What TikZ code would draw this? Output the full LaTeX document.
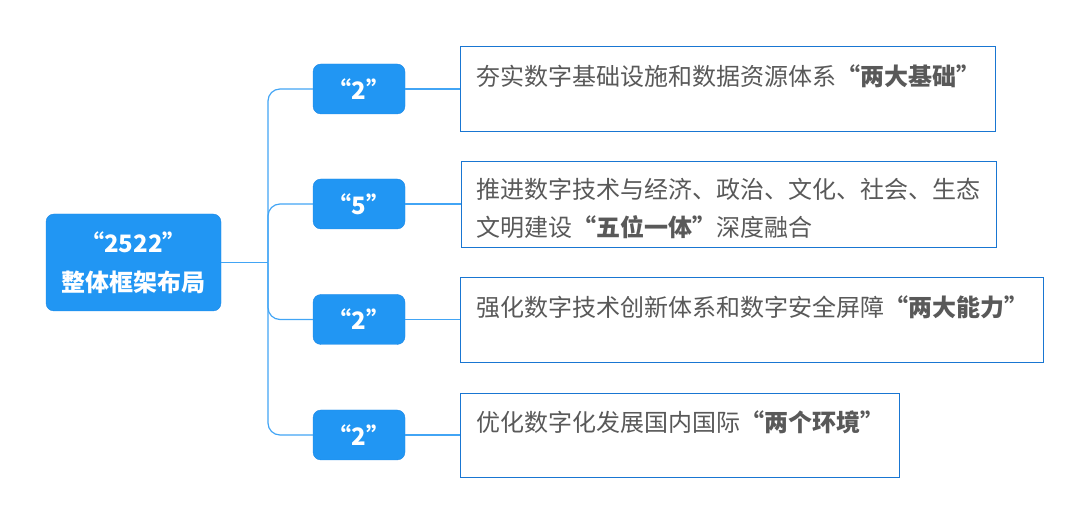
\documentclass[tikz,border=0pt]{standalone}
\usepackage{fontspec}
\setmainfont{Noto Sans CJK SC}
\usepackage{xcolor}
\usetikzlibrary{positioning}
\definecolor{boxblue}{HTML}{2196F3}
\definecolor{boxedge}{HTML}{1E88E5}
\definecolor{leafedge}{HTML}{1976D2}
\definecolor{linkblue}{HTML}{42A5F5}
\definecolor{textgray}{HTML}{595959}
\tikzset{
  rootbox/.style={draw=boxedge,fill=boxblue,rounded corners=8pt,minimum width=175pt,minimum height=97pt,align=center,text=white,font=\fontsize{24}{39}\selectfont\bfseries},
  numbox/.style={draw=boxedge,fill=boxblue,rounded corners=8pt,minimum width=92pt,minimum height=50pt,text=white,font=\fontsize{24}{30}\selectfont\bfseries},
  leafbox/.style={draw=leafedge,fill=white,line width=0.8pt,anchor=north west,inner sep=0pt},
  leaftext/.style={anchor=base west,inner sep=0pt,align=left,text=textgray,font=\fontsize{24}{38}\selectfont},
  link/.style={draw=linkblue,line width=1.2pt,rounded corners=12pt}
}

\begin{document}
\begin{tikzpicture}[x=1pt,y=1pt]
  \useasboundingbox (0,0) rectangle (1087,522);
  % root and the four numbers
  \node[rootbox] (root) at (133.5,259.5) {“2522”\\整体框架布局};
  \node[numbox] (n1) at (359,433) {“2”};
  \node[numbox] (n2) at (359,318) {“5”};
  \node[numbox] (n3) at (359,202.5) {“2”};
  \node[numbox] (n4) at (359,87) {“2”};
  % text boxes
  \node[leafbox,minimum width=535pt,minimum height=85pt] (l1) at (460,476) {};
  \node[leafbox,minimum width=535pt,minimum height=86pt] (l2) at (461,361) {};
  \node[leafbox,minimum width=583pt,minimum height=85pt] (l3) at (460,245) {};
  \node[leafbox,minimum width=439pt,minimum height=84pt] (l4) at (460,129) {};
  \node[leaftext] (t1) at ([shift={(16,-40)}]l1.north west) {夯实数字基础设施和数据资源体系\textbf{“两大基础”}};
  \node[leaftext] (t2) at ([shift={(15,-76)}]l2.north west) {推进数字技术与经济、政治、文化、社会、生态\\文明建设\textbf{“五位一体”}深度融合};
  \node[leaftext] (t3) at ([shift={(16,-40)}]l3.north west) {强化数字技术创新体系和数字安全屏障\textbf{“两大能力”}};
  \node[leaftext] (t4) at ([shift={(16,-39)}]l4.north west) {优化数字化发展国内国际\textbf{“两个环境”}};
  % connectors
  \coordinate (trunk) at (268,259.5);
  \draw[link] (root.east |- trunk) -- (trunk);
  \foreach \n in {n1,n2,n3,n4}
    \draw[link] (trunk) |- (\n.west);
  \foreach \n/\l in {n1/l1,n2/l2,n3/l3,n4/l4}
    \draw[link] (\n.east) -- (\n.east -| \l.west);
\end{tikzpicture}
\end{document}
